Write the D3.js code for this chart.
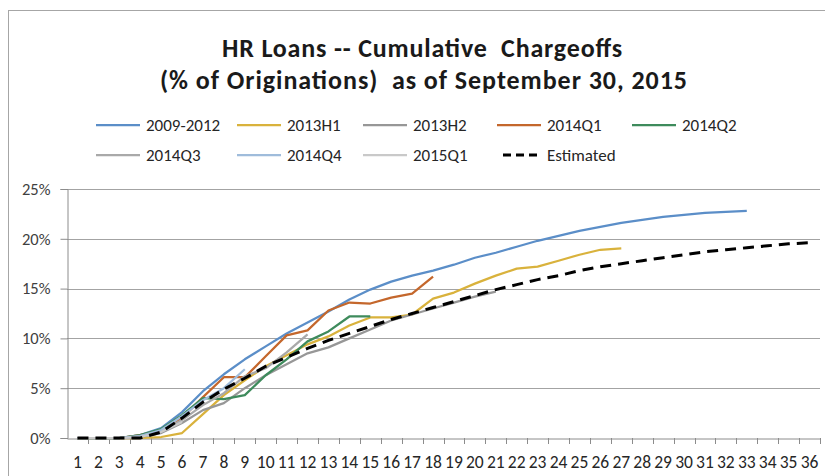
<!DOCTYPE html>
<html>
<head>
<meta charset="utf-8">
<script src="https://cdn.jsdelivr.net/npm/d3@7"></script>
<style>
  html, body { margin: 0; padding: 0; background: #fff; }
  svg { display: block; }
  text { font-family: Carlito, Calibri, Lato, sans-serif; }
</style>
</head>
<body>
<svg id="chart" width="825" height="476"></svg>
<script>
// ---- data (cumulative chargeoffs, % of originations) ----
const months = [1,2,3,4,5,6,7,8,9,10,11,12,13,14,15,16,17,18,19,20,21,22,23,24,25,26,27,28,29,30,31,32,33,34,35,36];
const yTicks = [0, 5, 10, 15, 20, 25];
const seriesNames = ["2009-2012","2013H1","2013H2","2014Q1","2014Q2","2014Q3","2014Q4","2015Q1","Estimated"];

const v2009_2012 = [0,0,0,0.3,1.0,2.6,4.7,6.4,7.9,9.2,10.5,11.6,12.7,13.9,14.9,15.7,16.3,16.8,17.4,18.1,18.6,19.2,19.8,20.3,20.8,21.2,21.6,21.9,22.2,22.4,22.6,22.7,22.8];
const v2013H1 = [0,0,0,0,0.1,0.5,2.4,4.3,5.8,7.2,8.3,9.4,10.2,11.3,12.1,12.1,12.4,14.0,14.6,15.5,16.3,17.0,17.2,17.8,18.4,18.9,19.05];
const v2013H2 = [0,0,0,0.1,0.5,1.5,2.8,3.5,5.0,6.3,7.4,8.5,9.1,10.0,10.9,11.8,12.4,13.0,13.6,14.2,14.7];
const v2014Q1 = [0,0,0,0.3,0.8,2.0,4.1,6.1,6.1,8.2,10.3,10.8,12.8,13.6,13.5,14.1,14.5,16.2];
const v2014Q2 = [0,0,0,0.3,0.9,2.3,4.0,3.9,4.3,6.3,7.9,9.7,10.7,12.2,12.2];
const v2014Q3 = [0,0,0,0.2,0.7,1.8,3.3,4.5,6.2,7.0,8.6,10.4];
const v2014Q4 = [0,0,0,0.2,0.8,2.2,3.8,5.0,6.9];
const v2015Q1 = [0,0,0,0.1,0.6,1.6];
const vEstimated = [0,0,0,0,0.6,2.0,3.6,4.9,6.0,7.2,8.1,9.0,9.8,10.5,11.2,11.9,12.5,13.1,13.7,14.3,14.9,15.4,15.9,16.3,16.8,17.2,17.5,17.8,18.1,18.4,18.7,18.9,19.1,19.3,19.5,19.6];

const seriesValues = [v2009_2012, v2013H1, v2013H2, v2014Q1, v2014Q2, v2014Q3, v2014Q4, v2015Q1, vEstimated];
const colors = ["#5b8ec8","#d9b23c","#979797","#c4672c","#3e8b5c","#a9a9a9","#9fbcdb","#c9c9c9","#000000"];

// ---- layout ----
const svg = d3.select("#chart");
const plot = { left: 67, right: 820, top: 189, bottom: 438 };

const x = d3.scaleBand().domain(months).range([plot.left, plot.right]).padding(0);
const y = d3.scaleLinear().domain([0, 25]).range([plot.bottom, plot.top]);
const cx = m => x(m) + x.bandwidth() / 2;

// outer chart border
svg.append("rect").attr("x", 8.5).attr("y", 10.5).attr("width", 900).attr("height", 600)
  .attr("fill", "none").attr("stroke", "#a6a6a6").attr("stroke-width", 1);

// title
const title = svg.append("g").attr("font-weight", "bold").attr("fill", "#1a1a1a");
title.append("text").attr("x", 222).attr("y", 57).attr("font-size", 26)
  .attr("textLength", 400).attr("lengthAdjust", "spacing")
  .style("white-space", "pre").text("HR Loans -- Cumulative  Chargeoffs");
title.append("text").attr("x", 160).attr("y", 89).attr("font-size", 26)
  .attr("textLength", 527).attr("lengthAdjust", "spacing")
  .style("white-space", "pre").text("(% of Originations)  as of September 30, 2015");

// gridlines
svg.append("g").selectAll("line").data(yTicks.filter(d => d > 0)).join("line")
  .attr("x1", plot.left).attr("x2", plot.right)
  .attr("y1", d => Math.round(y(d)) + 0.5).attr("y2", d => Math.round(y(d)) + 0.5)
  .attr("stroke", "#a3a3a3").attr("stroke-width", 1);

// y axis
const yAxis = svg.append("g").attr("transform", `translate(${plot.left + 0.5},0)`)
  .call(d3.axisLeft(y).tickValues(yTicks).tickFormat(d => d + "%").tickSize(7).tickPadding(10));
yAxis.select(".domain").attr("stroke", "#8c8c8c");
yAxis.selectAll(".tick line").attr("stroke", "#8c8c8c");
yAxis.selectAll(".tick text").attr("font-size", 16.5).attr("fill", "#404040").attr("font-family", "Carlito, Calibri, Lato, sans-serif");

// x axis
const xAxis = svg.append("g").attr("transform", `translate(0,${plot.bottom + 0.5})`)
  .call(d3.axisBottom(x).tickSize(0).tickPadding(17));
xAxis.select(".domain").attr("stroke", "#8c8c8c");
xAxis.selectAll(".tick text").attr("font-size", 17.5).attr("fill", "#262626").attr("font-family", "Carlito, Calibri, Lato, sans-serif");
// boundary tick marks
const bounds = months.map(m => x(m)).concat([x(months[months.length - 1]) + x.bandwidth()]);
svg.append("g").selectAll("line").data(bounds.slice(1)).join("line")
  .attr("x1", d => Math.round(d) + 0.5).attr("x2", d => Math.round(d) + 0.5)
  .attr("y1", plot.bottom).attr("y2", plot.bottom + 6)
  .attr("stroke", "#8c8c8c");

// lines
const line = d3.line().x((d, i) => cx(months[i])).y(d => y(d));
seriesValues.forEach((vals, k) => {
  const isEst = seriesNames[k] === "Estimated";
  svg.append("path").datum(vals)
    .attr("d", line)
    .attr("fill", "none")
    .attr("stroke", colors[k])
    .attr("stroke-width", isEst ? 3 : 2.25)
    .attr("stroke-dasharray", isEst ? "11,7" : null)
    .attr("stroke-linejoin", "round");
});

// legend
const legendPos = [
  [96,125],[237,125],[363,125],[497,125],[632,125],
  [96,155],[237,155],[363,155],[497,155]
];
const leg = svg.append("g");
seriesNames.forEach((name, k) => {
  const [lx, ly] = legendPos[k];
  const isEst = name === "Estimated";
  leg.append("line").attr("x1", lx + (isEst ? 6 : 0)).attr("x2", lx + 44).attr("y1", ly).attr("y2", ly)
    .attr("stroke", colors[k]).attr("stroke-width", isEst ? 3 : 2.25)
    .attr("stroke-dasharray", isEst ? "8,5" : null);
  leg.append("text").attr("x", lx + 50).attr("y", ly + 6).attr("font-size", 17)
    .attr("fill", "#262626").text(name);
});
</script>
</body>
</html>
